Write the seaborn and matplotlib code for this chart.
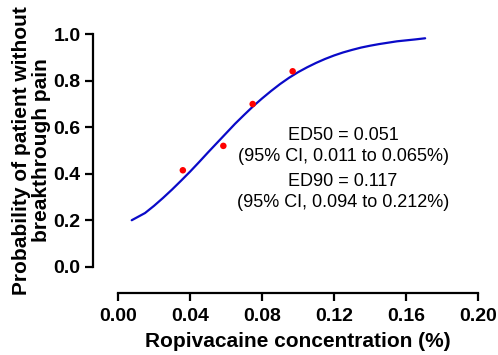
import numpy as np
import pandas as pd
import seaborn as sns
import matplotlib
matplotlib.use("Agg")
import matplotlib.pyplot as plt

obs_conc = [0.036, 0.0585, 0.0748, 0.097]
obs_prob = [0.415, 0.52, 0.70, 0.841]

# fitted curve
fit_conc = [0.0076, 0.015, 0.02, 0.025, 0.03, 0.035, 0.04, 0.045, 0.05,
            0.055, 0.06, 0.065, 0.07, 0.075, 0.08, 0.085, 0.09, 0.095,
            0.10, 0.105, 0.11, 0.115, 0.12, 0.125, 0.13, 0.135, 0.14,
            0.145, 0.15, 0.155, 0.16, 0.165, 0.1706]
fit_prob = [0.200, 0.231, 0.262, 0.296, 0.332, 0.370, 0.409, 0.450, 0.492,
            0.533, 0.574, 0.615, 0.653, 0.690, 0.724, 0.756, 0.786, 0.813,
            0.837, 0.858, 0.877, 0.894, 0.909, 0.922, 0.933, 0.943, 0.951,
            0.958, 0.964, 0.970, 0.974, 0.978, 0.983]

x_ticks = [0.00, 0.04, 0.08, 0.12, 0.16, 0.20]
y_ticks = [0.0, 0.2, 0.4, 0.6, 0.8, 1.0]

sns.set_style("ticks")
plt.rcParams['font.family'] = ['Liberation Sans', 'DejaVu Sans']
plt.rcParams['text.color'] = 'black'
plt.rcParams['axes.labelcolor'] = 'black'

obs = pd.DataFrame({'conc': obs_conc, 'prob': obs_prob})
fit = pd.DataFrame({'conc': fit_conc, 'prob': fit_prob})

fig = plt.figure(figsize=(4.98, 3.55), dpi=100)
ax = fig.add_axes([0.237, 0.2487, 0.723, 0.6546])

sns.lineplot(data=fit, x='conc', y='prob', color='#0a0ac8', linewidth=1.6, ax=ax)
sns.scatterplot(data=obs, x='conc', y='prob', color='#ff0000', s=22,
                edgecolor='none', ax=ax, zorder=3)

ax.set_xlim(0, 0.2)
ax.set_ylim(0, 1.0)
ax.set_xticks(x_ticks)
ax.set_yticks(y_ticks)
ax.set_xticklabels([f"{v:.2f}" for v in x_ticks])
ax.set_yticklabels([f"{v:.1f}" for v in y_ticks])

for s in ['top', 'right']:
    ax.spines[s].set_visible(False)
ax.spines['left'].set_position(('outward', 18))
ax.spines['bottom'].set_position(('outward', 19))
for s in ['left', 'bottom']:
    ax.spines[s].set_linewidth(1.6)
    ax.spines[s].set_color('black')

ax.tick_params(axis='both', width=1.6, length=6, color='black',
               labelsize=14, labelcolor='black', pad=3)
ax.tick_params(axis='x', pad=5)
for lab in ax.get_xticklabels() + ax.get_yticklabels():
    lab.set_fontweight('bold')

ax.set_xlabel('Ropivacaine concentration (%)', fontsize=15,
              fontweight='bold', labelpad=5)
ax.set_ylabel('Probability of patient without\nbreakthrough pain',
              fontsize=15, fontweight='bold', labelpad=2, linespacing=1.05)

ax.text(0.125, 0.52, 'ED50 = 0.051\n(95% CI, 0.011 to 0.065%)',
        ha='center', va='center', fontsize=13, linespacing=1.3)
ax.text(0.125, 0.32, 'ED90 = 0.117\n(95% CI, 0.094 to 0.212%)',
        ha='center', va='center', fontsize=13, linespacing=1.3)

fig.savefig('out.png', dpi=100)
